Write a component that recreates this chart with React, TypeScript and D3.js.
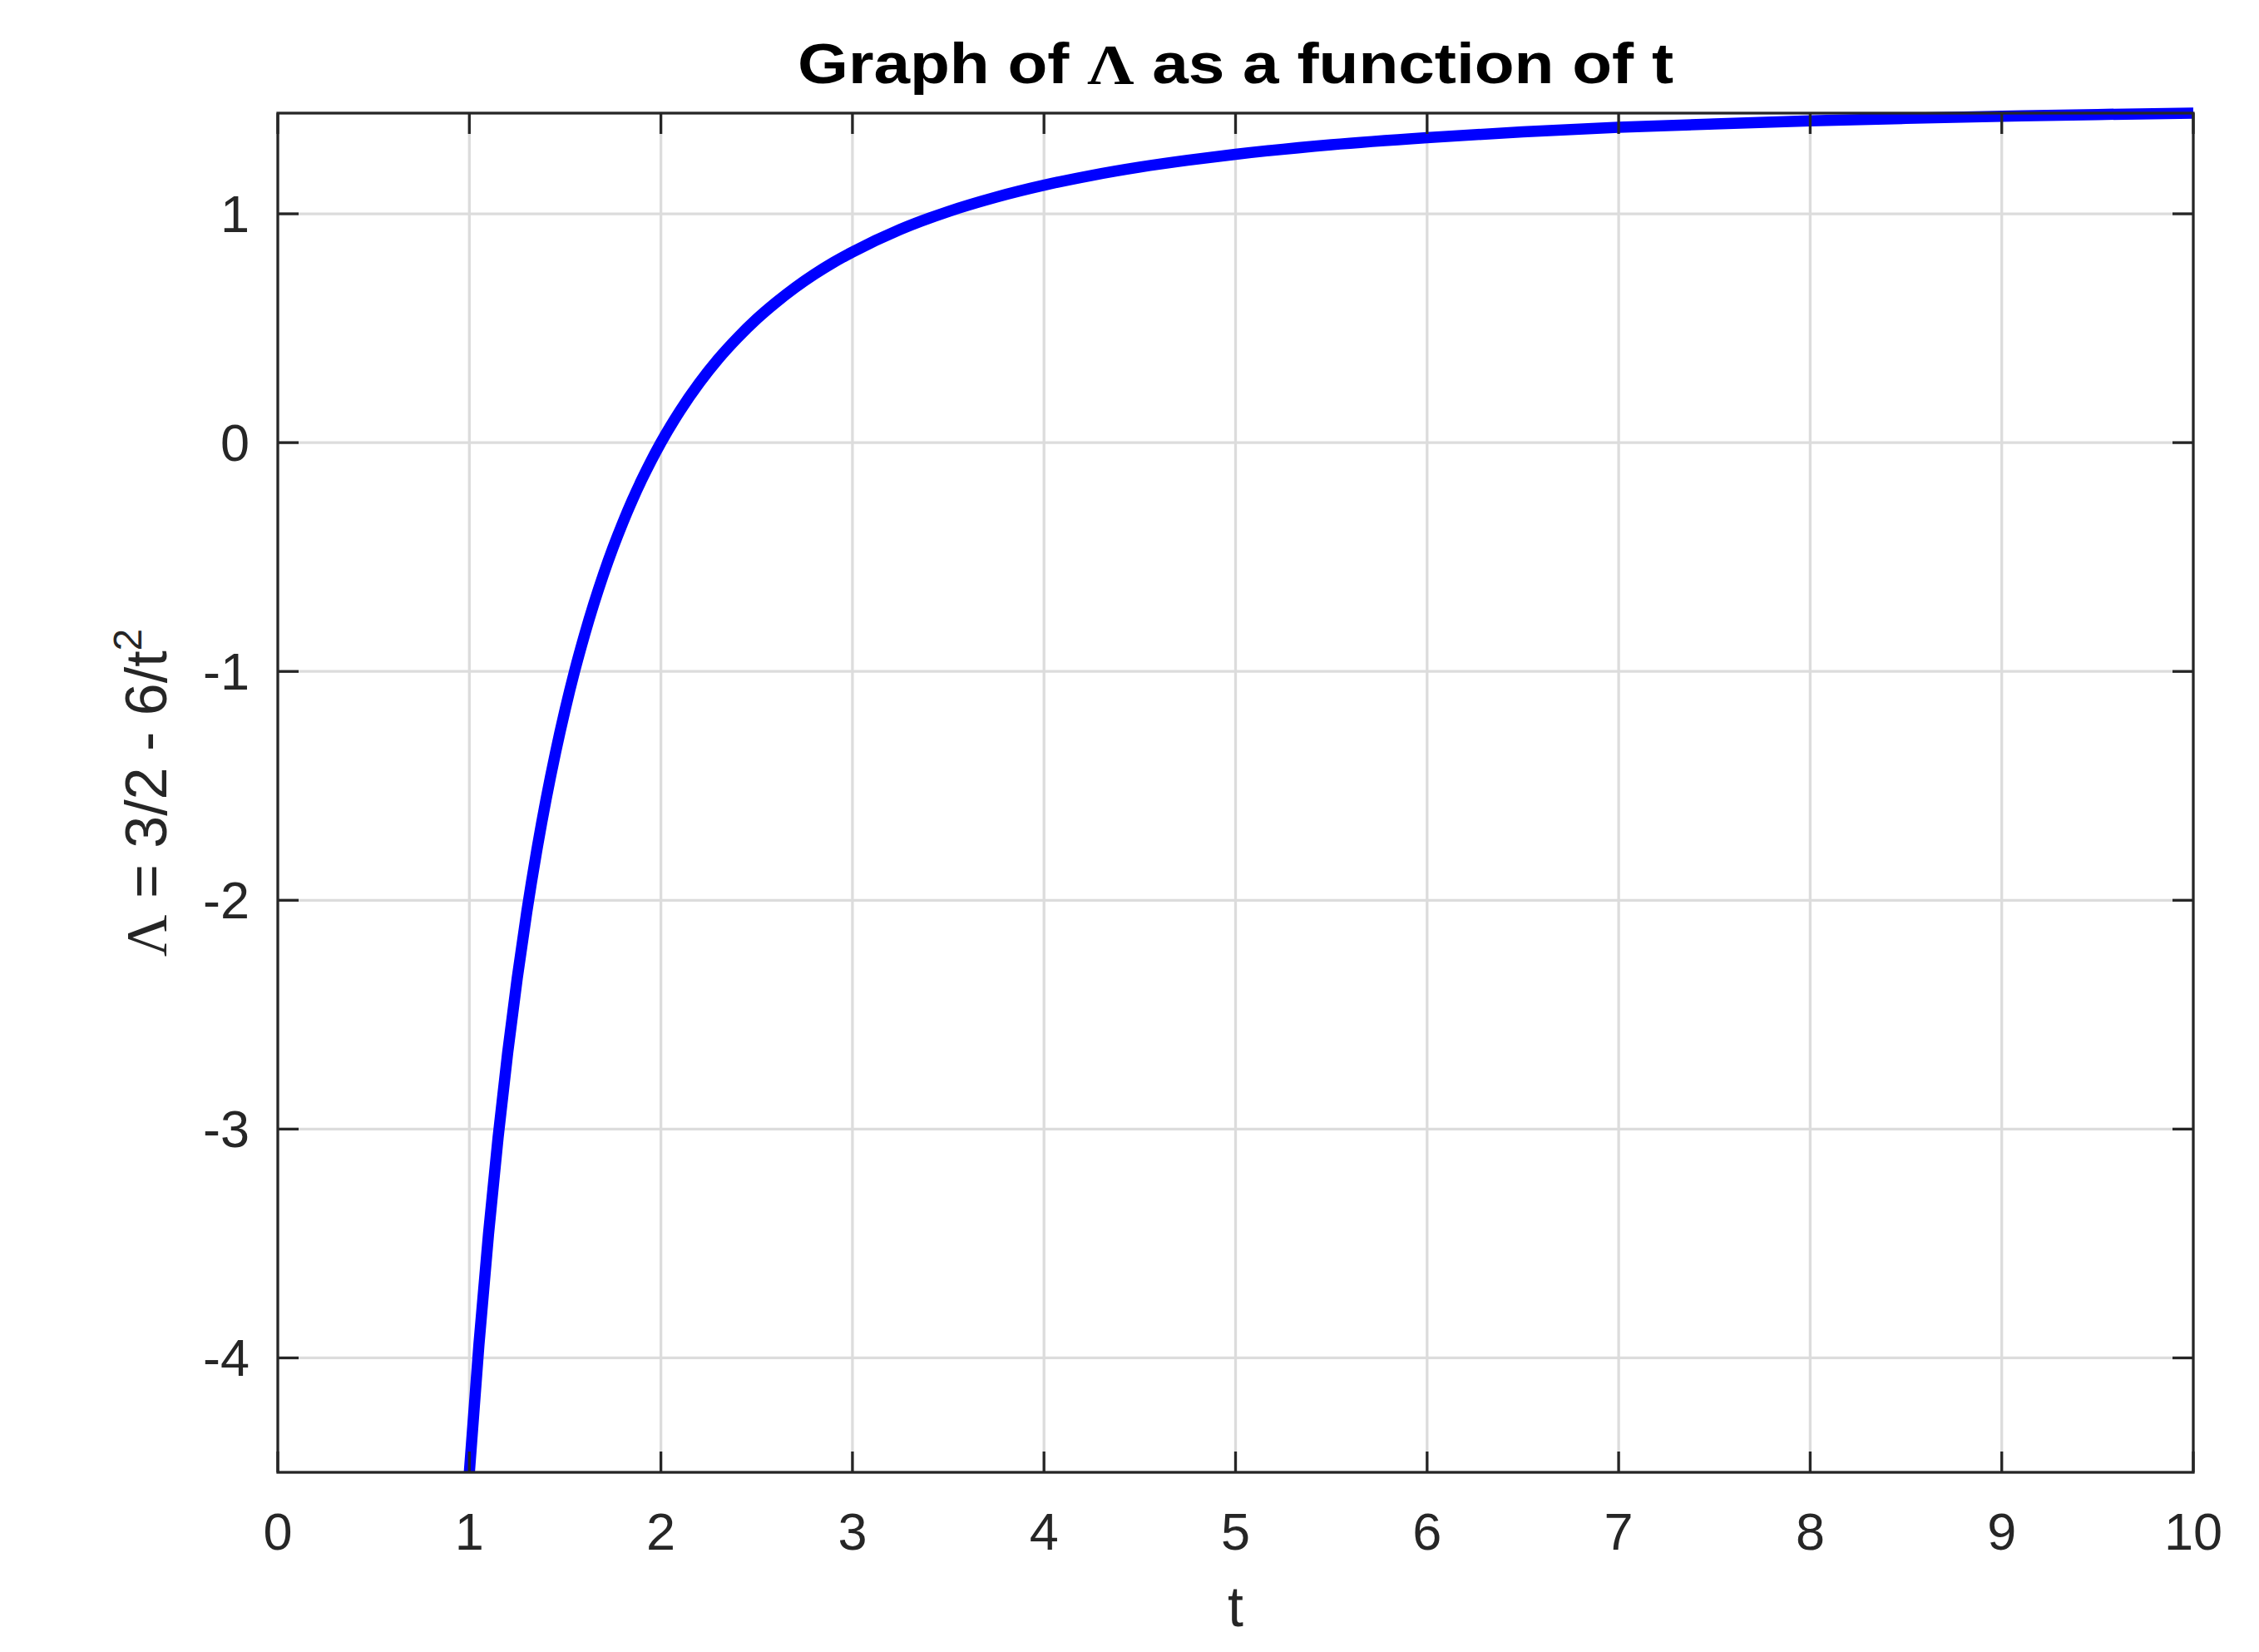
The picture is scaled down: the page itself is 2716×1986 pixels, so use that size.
import { useEffect, useRef } from 'react';
import * as d3 from 'd3';

// t values and the Λ values
const tValues = [
    1, 1.05, 1.1, 1.15, 1.2, 1.25, 1.3, 1.35, 1.4, 1.45, 1.5, 1.55, 1.6, 1.65, 1.7, 1.75, 1.8, 1.85, 1.9, 1.95,
    2.0, 2.1, 2.2, 2.3, 2.4, 2.5, 2.6, 2.7, 2.8, 2.9, 3.0, 3.25, 3.5, 3.75, 4, 4.25, 4.5, 4.75, 5, 5.5, 6, 6.5, 7, 7.5, 8, 8.5, 9, 9.5, 10
];
const lambdaValues = [
    -4.5, -3.942, -3.459, -3.037, -2.667, -2.34, -2.05, -1.792, -1.561, -1.354, -1.167, -0.997, -0.844, -0.704, -0.576, -0.459, -0.352, -0.253, -0.162, -0.078,
    0, 0.139, 0.26, 0.366, 0.458, 0.54, 0.612, 0.677, 0.735, 0.787, 0.833, 0.932, 1.01, 1.073, 1.125, 1.168, 1.204, 1.234, 1.26, 1.302, 1.333, 1.358, 1.378, 1.393, 1.406, 1.417, 1.426, 1.434, 1.44
];

const xTicks = [0, 1, 2, 3, 4, 5, 6, 7, 8, 9, 10];
const yTicks = [-4, -3, -2, -1, 0, 1];

const App = () => {
    const svgRef = useRef(null);

    useEffect(() => {
        const width = 2716;
        const height = 1986;
        const left = 334, right = 2637, top = 136, bottom = 1770;
        const axisColor = '#262626';
        const font = 'Arial, "Liberation Sans", Helvetica, sans-serif';
        const serif = '"Liberation Serif", "Times New Roman", serif';

        const svg = d3.select(svgRef.current)
            .attr('width', width)
            .attr('height', height);
        svg.selectAll('*').remove();

        svg.append('rect').attr('width', width).attr('height', height).attr('fill', '#ffffff');

        const x = d3.scaleLinear().domain([0, 10]).range([left, right]);
        const y = d3.scaleLinear().domain([-4.5, 1.44]).range([bottom, top]);

        // grid
        const grid = svg.append('g');
        grid.selectAll('.gx').data(xTicks.slice(1, -1)).enter().append('line')
            .attr('x1', d => x(d)).attr('x2', d => x(d))
            .attr('y1', top).attr('y2', bottom)
            .attr('stroke', '#dcdcdc').attr('stroke-width', 3.3);
        grid.selectAll('.gy').data(yTicks).enter().append('line')
            .attr('x1', left).attr('x2', right)
            .attr('y1', d => y(d)).attr('y2', d => y(d))
            .attr('stroke', '#dcdcdc').attr('stroke-width', 3.3);

        // curve
        const points = tValues.map((t, i) => [t, lambdaValues[i]]);
        const line = d3.line()
            .x(d => x(d[0]))
            .y(d => y(d[1]))
            .curve(d3.curveMonotoneX);
        svg.append('path')
            .attr('d', line(points))
            .attr('fill', 'none')
            .attr('stroke', '#0000ff')
            .attr('stroke-width', 13.5)
            .attr('stroke-linejoin', 'round');

        // ticks (inward, on all four sides)
        const tickLen = 25;
        const ticks = svg.append('g').attr('stroke', axisColor).attr('stroke-width', 3.3);
        xTicks.forEach(d => {
            ticks.append('line').attr('x1', x(d)).attr('x2', x(d)).attr('y1', bottom).attr('y2', bottom - tickLen);
            ticks.append('line').attr('x1', x(d)).attr('x2', x(d)).attr('y1', top).attr('y2', top + tickLen);
        });
        yTicks.forEach(d => {
            ticks.append('line').attr('x1', left).attr('x2', left + tickLen).attr('y1', y(d)).attr('y2', y(d));
            ticks.append('line').attr('x1', right).attr('x2', right - tickLen).attr('y1', y(d)).attr('y2', y(d));
        });

        // box
        svg.append('rect')
            .attr('x', left).attr('y', top)
            .attr('width', right - left).attr('height', bottom - top)
            .attr('fill', 'none')
            .attr('stroke', axisColor).attr('stroke-width', 3.3);

        // tick labels
        svg.append('g').selectAll('text').data(xTicks).enter().append('text')
            .attr('x', d => x(d))
            .attr('y', 1863)
            .attr('text-anchor', 'middle')
            .attr('font-family', font)
            .attr('font-size', 63)
            .attr('fill', axisColor)
            .text(d => d);
        svg.append('g').selectAll('text').data(yTicks).enter().append('text')
            .attr('x', 300)
            .attr('y', d => y(d) + 22)
            .attr('text-anchor', 'end')
            .attr('font-family', font)
            .attr('font-size', 63)
            .attr('fill', axisColor)
            .text(d => d);

        // x label
        svg.append('text')
            .attr('x', (left + right) / 2)
            .attr('y', 1955)
            .attr('text-anchor', 'middle')
            .attr('font-family', font)
            .attr('font-size', 68)
            .attr('fill', axisColor)
            .text('t');

        // y label
        const yl = svg.append('text')
            .attr('transform', `translate(200, ${(top + bottom) / 2}) rotate(-90)`)
            .attr('text-anchor', 'middle')
            .attr('font-family', font)
            .attr('font-size', 70)
            .attr('fill', axisColor);
        yl.append('tspan').attr('font-family', serif).text('Λ');
        yl.append('tspan').text(' = 3/2 - 6/t');
        yl.append('tspan').attr('font-size', 48).attr('dy', -30).text('2');

        // title
        const title = svg.append('text')
            .attr('x', (left + right) / 2)
            .attr('y', 100)
            .attr('text-anchor', 'middle')
            .attr('font-family', font)
            .attr('font-size', 68)
            .attr('font-weight', 'bold')
            .attr('fill', '#000000')
            .attr('textLength', 1053)
            .attr('lengthAdjust', 'spacingAndGlyphs');
        title.append('tspan').text('Graph of ');
        title.append('tspan').attr('font-family', serif).text('Λ');
        title.append('tspan').text(' as a function of t');
    }, []);

    return (
        <div style={{ position: 'absolute', left: 0, top: 0 }}>
            <svg ref={svgRef} style={{ display: 'block' }}></svg>
        </div>
    );
};

export default App;
